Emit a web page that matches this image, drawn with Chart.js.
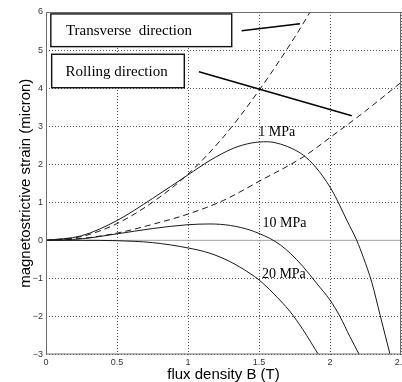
<!DOCTYPE html>
<html>
<head>
<meta charset="utf-8">
<script src="https://cdn.jsdelivr.net/npm/chart.js@4.4.1/dist/chart.umd.min.js"></script>
<style>
    html, body { margin: 0; padding: 0; background: #fff; }
    #wrap { width: 402px; height: 382px; }
</style>
</head>
<body>
<div id="wrap"><canvas id="chart" width="402" height="382"></canvas></div>
<script>
// flux density B (T) against magnetostrictive strain (micron)
const transverseB = [0, 0.25, 0.5, 0.75, 1.0, 1.25, 1.5, 1.75, 1.875, 1.95];
const transverseS = [0, 0.1, 0.44, 1.0, 1.74, 2.72, 3.94, 5.33, 6.1, 6.6];

const rollingB = [0, 0.25, 0.5, 0.75, 1.0, 1.25, 1.5, 1.815, 2.0, 2.25, 2.5];
const rollingS = [0, 0.05, 0.19, 0.42, 0.69, 1.05, 1.55, 2.2, 2.7, 3.4, 4.15];

const mpa1B = [0, 0.25, 0.5, 0.75, 1.0, 1.155, 1.32, 1.45, 1.56, 1.65, 1.75, 1.815, 1.9, 2.0, 2.05, 2.118, 2.188, 2.235, 2.294, 2.352, 2.423];
const mpa1S = [0, 0.12, 0.52, 1.1, 1.72, 2.1, 2.42, 2.56, 2.59, 2.53, 2.38, 2.23, 1.92, 1.4, 1.06, 0.53, 0, -0.45, -1.1, -1.95, -3.0];

const mpa10B = [0, 0.25, 0.5, 0.75, 1.0, 1.155, 1.3, 1.437, 1.5, 1.577, 1.65, 1.72, 1.81, 1.906, 2.0, 2.07, 2.14, 2.206];
const mpa10S = [0, 0.04, 0.17, 0.31, 0.41, 0.43, 0.39, 0.27, 0.18, 0.05, -0.12, -0.34, -0.69, -1.13, -1.57, -2.0, -2.53, -3.0];

const mpa20B = [0, 0.25, 0.5, 0.75, 1.0, 1.155, 1.296, 1.437, 1.5, 1.6, 1.718, 1.81, 1.918];
const mpa20S = [0, 0, -0.01, -0.06, -0.2, -0.34, -0.56, -0.87, -1.04, -1.39, -1.87, -2.35, -3.0];

const zeroB = [0, 2.5];
const zeroS = [0, 0];

const xTicks = [0, 0.5, 1, 1.5, 2, 2.5];
const yTicks = [-3, -2, -1, 0, 1, 2, 3, 4, 5, 6];

// text labels, placed in data units
const curveLabels = [
    { text: "1 MPa", b: 1.625, s: 2.83 },
    { text: "10 MPa", b: 1.68, s: 0.45 },
    { text: "20 MPa", b: 1.675, s: -0.885 }
];
const legendBoxes = [
    { text: "Transverse  direction", b0: 0.034, b1: 1.308, s0: 5.95, s1: 5.09, tb: 0.14 },
    { text: "Rolling direction", b0: 0.04, b1: 0.974, s0: 4.89, s1: 4.01, tb: 0.138 }
];
const pointerLines = [
    { b0: 1.378, s0: 5.507, b1: 1.789, s1: 5.69 },
    { b0: 1.077, s0: 4.43, b1: 2.153, s1: 3.274 }
];

const zip = (xs, ys) => xs.map((x, i) => ({ x, y: ys[i] }));

const curve = (data, dashed) => ({
    data,
    showLine: true,
    borderColor: "#1a1a1a",
    borderWidth: 1,
    borderDash: dashed ? [6, 4] : [],
    pointRadius: 0,
    cubicInterpolationMode: "monotone",
    order: 1
});

const overlay = {
    id: "overlay",
    afterDatasetsDraw(chart) {
        const { ctx, chartArea, scales: { x, y } } = chart;
        ctx.save();

        // frame
        ctx.strokeStyle = "#6e6e6e";
        ctx.lineWidth = 1;
        ctx.strokeRect(chartArea.left + 0.5, chartArea.top + 0.5,
            chartArea.right - chartArea.left - 1, chartArea.bottom - chartArea.top - 1);

        // pointer lines
        ctx.strokeStyle = "#000";
        ctx.lineWidth = 1.4;
        pointerLines.forEach(l => {
            ctx.beginPath();
            ctx.moveTo(x.getPixelForValue(l.b0), y.getPixelForValue(l.s0));
            ctx.lineTo(x.getPixelForValue(l.b1), y.getPixelForValue(l.s1));
            ctx.stroke();
        });

        // boxes
        ctx.font = "15px 'Liberation Serif', 'Times New Roman', serif";
        ctx.textBaseline = "middle";
        ctx.textAlign = "left";
        legendBoxes.forEach(bx => {
            const l = x.getPixelForValue(bx.b0);
            const r = x.getPixelForValue(bx.b1);
            const t = y.getPixelForValue(bx.s0);
            const btm = y.getPixelForValue(bx.s1);
            ctx.fillStyle = "#fff";
            ctx.fillRect(l, t, r - l, btm - t);
            ctx.strokeStyle = "#111";
            ctx.lineWidth = 1.4;
            ctx.strokeRect(l, t, r - l, btm - t);
            ctx.fillStyle = "#000";
            ctx.fillText(bx.text, x.getPixelForValue(bx.tb), (t + btm) / 2 + 1);
        });

        // curve labels
        ctx.font = "14px 'Liberation Serif', 'Times New Roman', serif";
        ctx.textAlign = "center";
        ctx.fillStyle = "#000";
        curveLabels.forEach(lb => {
            ctx.fillText(lb.text, x.getPixelForValue(lb.b), y.getPixelForValue(lb.s));
        });

        ctx.restore();
    }
};

const tickFont = { family: "'Liberation Sans', Arial, sans-serif", size: 9 };
const titleFont = { family: "'Liberation Sans', Arial, sans-serif", size: 15, lineHeight: 1 };

new Chart(document.getElementById("chart"), {
    type: "scatter",
    data: {
        datasets: [
            curve(zip(transverseB, transverseS), true),
            curve(zip(rollingB, rollingS), true),
            curve(zip(mpa1B, mpa1S), false),
            curve(zip(mpa10B, mpa10S), false),
            curve(zip(mpa20B, mpa20S), false),
            {
                data: zip(zeroB, zeroS),
                showLine: true,
                borderColor: "#a0a0a0",
                borderWidth: 1,
                pointRadius: 0,
                order: 10
            }
        ]
    },
    options: {
        responsive: false,
        animation: false,
        devicePixelRatio: 1,
        layout: { padding: { top: 12, right: 1, left: 0, bottom: 0 } },
        plugins: {
            legend: { display: false },
            tooltip: { enabled: false }
        },
        scales: {
            x: {
                type: "linear",
                min: 0,
                max: 2.5,
                afterBuildTicks: (scale) => {
                    scale.ticks = xTicks.map(v => ({ value: v }));
                },
                ticks: {
                    font: tickFont,
                    color: "#333",
                    padding: 3,
                    maxRotation: 0,
                    autoSkip: false,
                    callback: (v) => String(v)
                },
                grid: { color: "#555", drawTicks: false, lineWidth: 1 },
                border: { display: false, dash: [1, 2] },
                title: {
                    display: true,
                    text: "flux density B (T)",
                    font: titleFont,
                    color: "#000",
                    padding: { top: 0, bottom: 0 }
                },
                afterFit: (scale) => {
                    scale.height = 27.5;
                    scale.paddingLeft = 0;
                    scale.paddingRight = 0;
                }
            },
            y: {
                type: "linear",
                min: -3,
                max: 6,
                afterBuildTicks: (scale) => {
                    scale.ticks = yTicks.map(v => ({ value: v }));
                },
                ticks: {
                    font: tickFont,
                    color: "#333",
                    padding: 3,
                    autoSkip: false,
                    callback: (v) => v < 0 ? "\u2212" + Math.abs(v) : String(v)
                },
                grid: {
                    color: (c) => (c.tick && c.tick.value === 0) ? "rgba(0,0,0,0)" : "#555",
                    drawTicks: false,
                    lineWidth: 1
                },
                border: { display: false, dash: [1, 2] },
                title: {
                    display: true,
                    text: "magnetostrictive strain (micron)",
                    font: titleFont,
                    color: "#000",
                    padding: { top: 18.5, bottom: 0 }
                },
                afterFit: (scale) => {
                    scale.width = 46;
                    scale.paddingTop = 0;
                    scale.paddingBottom = 0;
                }
            }
        }
    },
    plugins: [overlay]
});
</script>
</body>
</html>
